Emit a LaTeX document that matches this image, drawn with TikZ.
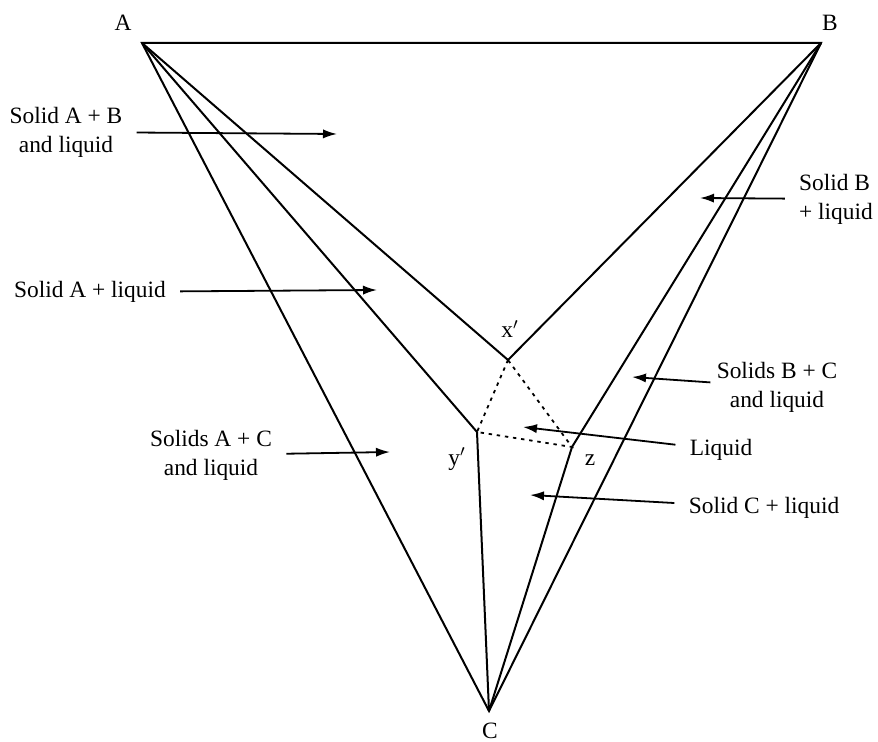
\documentclass[tikz,border=0pt]{standalone}
\usepackage{fontspec}
\setmainfont{Liberation Serif}
\usetikzlibrary{arrows.meta,positioning}
\tikzset{
  phase/.style={line width=1pt,line join=miter},
  tieline/.style={line width=0.9pt,dash pattern=on 1.7pt off 2.4pt},
  region/.style={align=center,font=\fontsize{11.7}{14.5}\selectfont,inner sep=3pt},
  corner/.style={font=\fontsize{11.7}{14}\selectfont,inner sep=0pt},
  pointer/.style={-{Latex[length=7pt,width=4.6pt]},line width=0.9pt,shorten <=4pt}
}

\begin{document}
\begin{tikzpicture}[x=0.5pt,y=-0.5pt]
    \useasboundingbox (0,0) rectangle (878,742);

    % corners and invariant points
    \coordinate (A) at (142,43);
    \coordinate (B) at (821,43);
    \coordinate (C) at (489,711);
    \coordinate (xp) at (508,360);
    \coordinate (yp) at (477,432);
    \coordinate (z) at (572,447);

    \node[corner] (lA) at (123,23) {A};
    \node[corner] (lB) at (830,23) {B};
    \node[corner] (lC) at (490,731) {C};
    \node[corner] (lxp) at (510,329) {x$'$};
    \node[corner] (lyp) at (457,459) {y$'$};
    \node[corner] (lz) at (590,460) {z};

    % boundaries
    \draw[phase] (A)--(B)--(C)--cycle;
    \draw[phase] (A)--(xp)--(B);
    \draw[phase] (A)--(yp)--(C);
    \draw[phase] (B)--(z)--(C);
    \draw[tieline] (xp)--(yp)--(z)--cycle;

    % region labels
    \node[region] (sAB) at (66,132) {Solid A + B\\and liquid};
    \node[region] (sA) at (90,292) {Solid A + liquid};
    \node[region] (sAC) at (211,455) {Solids A + C\\and liquid};
    \node[region,align=left] (sB) at (836,199) {Solid B\\+ liquid};
    \node[region] (sBC) at (777,387) {Solids B + C\\and liquid};
    \node[region] (liq) at (721,450) {Liquid};
    \node[region] (sC) at (764,508) {Solid C + liquid};

    \coordinate (hAB) at (337,134);
    \coordinate (hA) at (377,290);
    \coordinate (hAC) at (390,452);
    \coordinate (hB) at (700,198);
    \coordinate (hBC) at (632,377);
    \coordinate (hL) at (523,427);
    \coordinate (hC) at (530,495);

    \draw[pointer] (sAB)--(hAB);
    \draw[pointer] (sA)--(hA);
    \draw[pointer] (sAC)--(hAC);
    \draw[pointer] (sB)--(hB);
    \draw[pointer,shorten <=0pt] (sBC)--(hBC);
    \draw[pointer] (liq)--(hL);
    \draw[pointer] (sC)--(hC);
\end{tikzpicture}
\end{document}
